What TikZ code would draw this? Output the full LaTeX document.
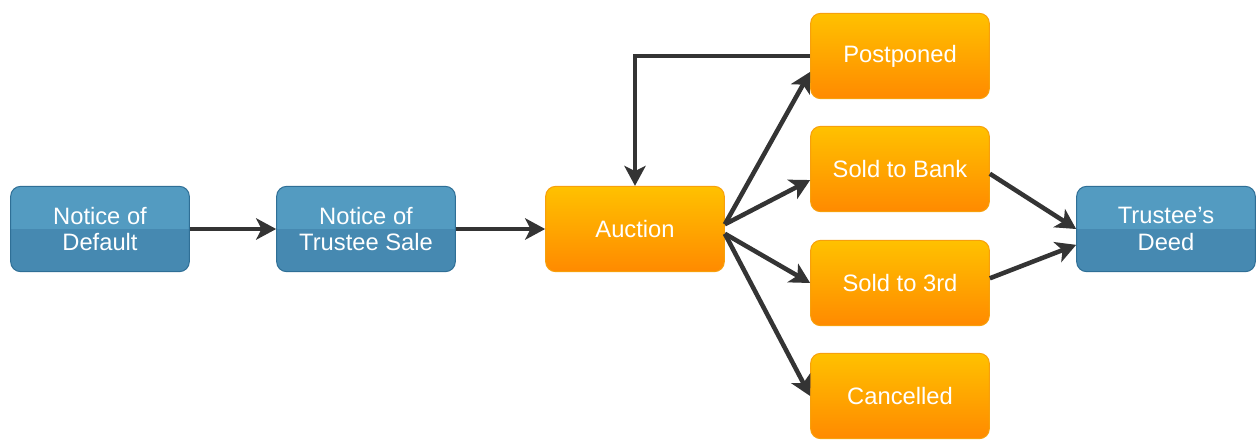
\documentclass[tikz,border=0pt]{standalone}
\usepackage{fontspec}
\setmainfont{Liberation Sans}
\usetikzlibrary{arrows.meta}

\definecolor{blueTop}{RGB}{83,155,193}
\definecolor{blueLow}{RGB}{70,137,177}
\definecolor{blueLine}{RGB}{47,111,150}
\definecolor{orangeTop}{RGB}{255,193,0}
\definecolor{orangeLow}{RGB}{255,138,0}
\definecolor{orangeLine}{RGB}{247,160,12}
\definecolor{arrowGrey}{RGB}{52,52,52}

\tikzset{every picture/.style={line width=0.75pt}}
\tikzset{
  boxbase/.style={rounded corners=7.5pt, minimum width=134pt, minimum height=64pt,
    inner sep=0.75pt, align=center, text=white, font=\fontsize{17.8}{20}\selectfont},
  bluebox/.style={boxbase, draw=blueLine, fill=blueTop,
    path picture={\fill[blueLow, sharp corners] (path picture bounding box.west) rectangle (path picture bounding box.south east);}},
  orangebox/.style={boxbase, draw=orangeLine, top color=orangeTop, bottom color=orangeLow},
  flow/.style={draw=arrowGrey, line width=3.4pt, -{Stealth[length=15pt,width=16pt,inset=4pt]}}
}

\begin{document}
\begin{tikzpicture}[x=0.75pt,y=0.75pt,yscale=-1,xscale=1]
%set diagram size to the reference: 1257 x 444
\useasboundingbox (0,0) rectangle (1257,444);

%Shape: Rounded Rect [id:noticeDefault]
\node (noticeDefault) at (100,229) [bluebox] {Notice of\\Default};
%Shape: Rounded Rect [id:noticeSale]
\node (noticeSale) at (366,229) [bluebox] {Notice of\\Trustee Sale};
%Shape: Rounded Rect [id:auction]
\node (auction) at (635,229) [orangebox] {Auction};
%Shape: Rounded Rect [id:postponed]
\node (postponed) at (900,56) [orangebox] {Postponed};
%Shape: Rounded Rect [id:soldBank]
\node (soldBank) at (900,169) [orangebox] {Sold to Bank};
%Shape: Rounded Rect [id:soldThird]
\node (soldThird) at (900,283) [orangebox] {Sold to 3rd};
%Shape: Rounded Rect [id:cancelled]
\node (cancelled) at (900,396) [orangebox] {Cancelled};
%Shape: Rounded Rect [id:trusteeDeed]
\node (trusteeDeed) at (1166,229) [bluebox] {Trustee’s\\Deed};

%Straight Lines [id:noticeDefault-noticeSale]
\draw [flow] (noticeDefault) -- (noticeSale);
%Straight Lines [id:noticeSale-auction]
\draw [flow] (noticeSale) -- (auction);
%Straight Lines [id:postponed-auction]
\draw [flow] (postponed.west) -| (auction.north);
%Straight Lines [id:auction-postponed]
\draw [flow] (auction.3) -- (postponed.190);
%Straight Lines [id:auction-soldBank]
\draw [flow] (auction.3) -- (soldBank.187);
%Straight Lines [id:auction-soldThird]
\draw [flow] (auction.-3) -- (soldThird.west);
%Straight Lines [id:auction-cancelled]
\draw [flow] (auction.-3) -- (cancelled.west);
%Straight Lines [id:soldBank-trusteeDeed]
\draw [flow] (soldBank.-3) -- (trusteeDeed.west);
%Straight Lines [id:soldThird-trusteeDeed]
\draw [flow] (soldThird.3) -- (trusteeDeed.190);

\end{tikzpicture}
\end{document}
